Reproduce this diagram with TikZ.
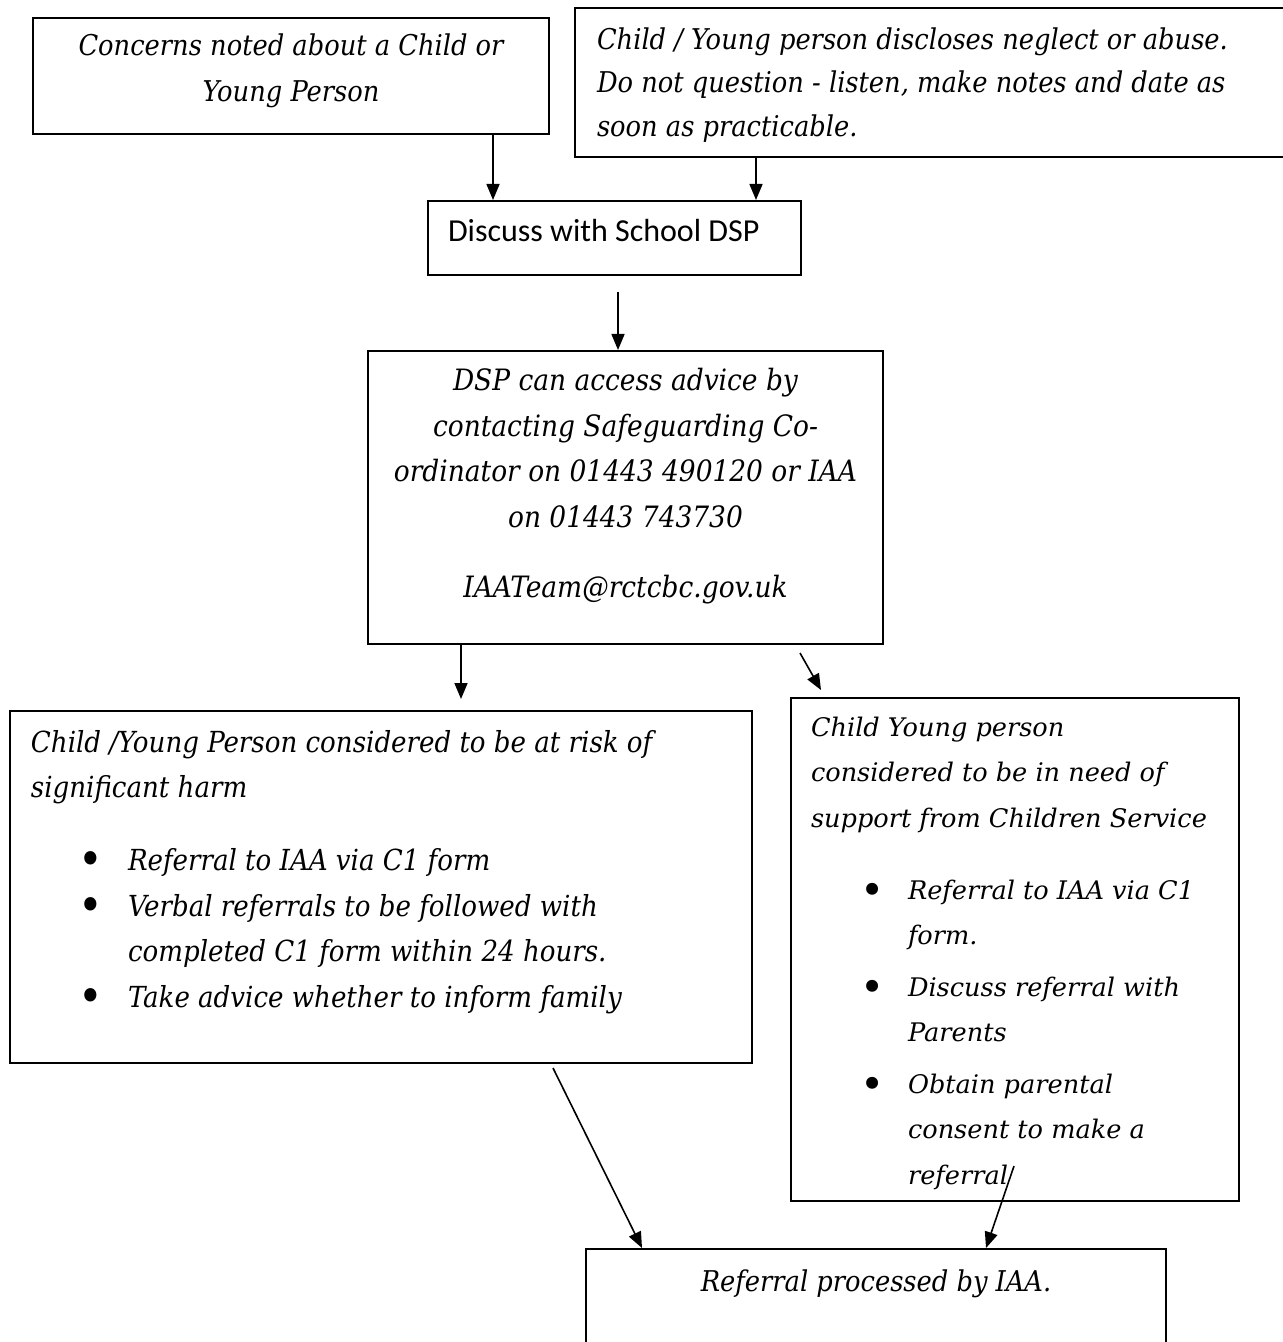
\documentclass[tikz,border=0pt]{standalone}
\usepackage{fontspec}
\setmainfont{DejaVu Serif Condensed}
\newfontfamily\widefont{DejaVu Serif}
\newfontfamily\calfont{Carlito}
\usetikzlibrary{arrows.meta}

% fixed size box body: width, height, top pad, text
\newcommand{\boxbody}[4]{\begin{minipage}[t][#2][t]{#1}\vspace*{#3}#4\end{minipage}}
% bullet line: label position, text indent, text
\newcommand{\bitem}[3]{\par\noindent\hangindent=#2\hangafter=1\makebox[#2][l]{\hspace*{#1}\raisebox{-2.6pt}{\scalebox{1.6}{\textbullet}}}#3\par}

\begin{document}
\begin{tikzpicture}[x=0.5pt,y=-0.5pt,
  box/.style={draw,line width=1pt,inner sep=0pt,anchor=north west},
  arr/.style={-{Triangle[length=8pt,width=6.5pt]},line width=0.8pt}]
\fill[white] (0,0) rectangle (1283,1342);
\clip (0,0) rectangle (1283,1342);

% boxes
\node[box,font=\itshape\fontsize{14.3pt}{23pt}\selectfont] (concern) at (32,17)
  {\boxbody{258pt}{58pt}{2.9pt}{\centering\strut Concerns noted about a Child or\\ Young Person}};
\node[box,inner xsep=11pt,font=\itshape\fontsize{14.3pt}{21.75pt}\selectfont] (disclose) at (574,7)
  {\boxbody{338.5pt}{74.5pt}{5.3pt}{\raggedright\strut Child / Young person discloses neglect or abuse.\\
   Do not question - listen, make notes and date as\\ soon as practicable.}};
\node[box,inner xsep=10pt,font=\calfont\fontsize{16pt}{19.2pt}\selectfont] (discuss) at (427,200)
  {\boxbody{166.5pt}{37pt}{6.6pt}{\raggedright\strut Discuss with School DSP}};
\node[box,font=\itshape\fontsize{14.7pt}{22.7pt}\selectfont] (advice) at (367,350)
  {\boxbody{257.5pt}{146.5pt}{4.1pt}{\centering\strut DSP can access advice by\\ contacting Safeguarding Co-\\
   ordinator on 01443 490120 or IAA\\ on 01443 743730\\[12.3pt] IAATeam@rctcbc.gov.uk}};
\node[box,inner xsep=10.5pt,font=\itshape\fontsize{14.5pt}{22.75pt}\selectfont] (risk) at (9,710)
  {\boxbody{350pt}{176pt}{4.6pt}{\raggedright\strut Child /Young Person considered to be at risk of\\ significant harm\par
   \vspace{13.75pt}
   \bitem{23.5pt}{48.5pt}{Referral to IAA via C1 form}
   \bitem{23.5pt}{48.5pt}{Verbal referrals to be followed with\newline completed C1 form within 24 hours.}
   \bitem{23.5pt}{48.5pt}{Take advice whether to inform family}}};
\node[box,inner xsep=10pt,font=\widefont\itshape\fontsize{12.8pt}{22.75pt}\selectfont] (support) at (790,697)
  {\boxbody{204pt}{251.5pt}{3.1pt}{\raggedright\strut Child Young person\newline
   considered to be in need of\newline support from Children Service\par
   \vspace{10.25pt}\setlength{\parskip}{3pt}
   \bitem{24.5pt}{48.5pt}{Referral to IAA via C1\newline form.}
   \bitem{24.5pt}{48.5pt}{Discuss referral with\newline Parents}
   \bitem{24.5pt}{48.5pt}{Obtain parental\newline consent to make a\newline referral}}};
\node[box,font=\itshape\fontsize{14.3pt}{23pt}\selectfont] (iaa) at (585,1248)
  {\boxbody{290pt}{55pt}{4.9pt}{\centering\strut Referral processed by IAA.}};

% connector ends
\coordinate (x1) at (493,0);
\coordinate (x2) at (756,0);
\coordinate (x3) at (618,0);
\coordinate (x4) at (461,0);
\coordinate (s3) at (618,292);
\coordinate (e4) at (461,699);
\coordinate (s5) at (800,653);
\coordinate (e5) at (821,690);
\coordinate (s6) at (553,1068);
\coordinate (x6) at (642,0);
\coordinate (s7) at (1014,1166);
\coordinate (x7) at (986,0);

\draw[arr] (concern.south -| x1) -- (discuss.north -| x1);
\draw[arr] (disclose.south -| x2) -- (discuss.north -| x2);
\draw[arr] (s3) -- (advice.north -| x3);
\draw[arr] (advice.south -| x4) -- (e4);
\draw[arr] (s5) -- (e5);
\draw[arr] (s6) -- (iaa.north -| x6);
\draw[arr] (s7) -- (iaa.north -| x7);
\end{tikzpicture}
\end{document}
